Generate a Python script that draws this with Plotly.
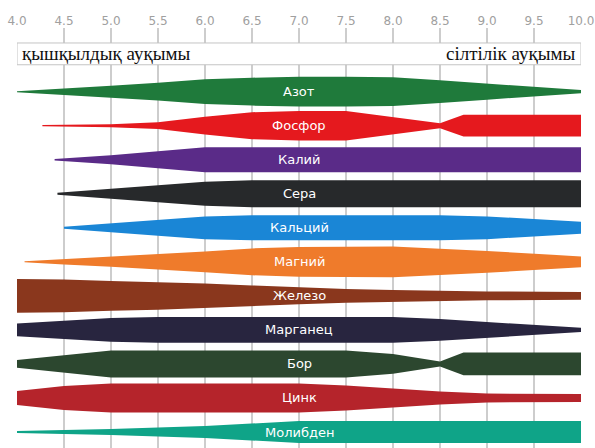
import plotly.graph_objects as go

# ---- data -------------------------------------------------------------
ph_ticks = [4.0, 4.5, 5.0, 5.5, 6.0, 6.5, 7.0, 7.5, 8.0, 8.5, 9.0, 9.5, 10.0]
tick_labels = ["4.0", "4.5", "5.0", "5.5", "6.0", "6.5", "7.0", "7.5", "8.0", "8.5", "9.0", "9.5", "10.0"]

nutrients = ["Азот", "Фосфор", "Калий", "Сера", "Кальций", "Магний",
             "Железо", "Марганец", "Бор", "Цинк", "Молибден"]
colors = ["#1f7a3b", "#e5191e", "#5a2b88", "#27292b", "#1a86d6", "#ef7b2b",
          "#8a371d", "#28253f", "#2c472f", "#b5242b", "#0fa488"]

# availability (band thickness, in row heights) along pH
ph_azot = [4.0, 4.5, 5.0, 5.5, 6.0, 6.5, 7.0, 7.5, 8.0, 8.5, 9.0, 9.5, 10.0]
av_azot = [0.03, 0.17, 0.35, 0.52, 0.73, 0.82, 0.87, 0.87, 0.85, 0.67, 0.47, 0.26, 0.09]

ph_fosfor = [4.27, 5.0, 5.5, 6.0, 6.5, 7.0, 7.5, 8.0, 8.5, 8.75, 10.0]
av_fosfor = [0.04, 0.09, 0.2, 0.52, 0.79, 0.87, 0.87, 0.52, 0.15, 0.64, 0.64]

ph_kaliy = [4.4, 5.0, 5.5, 6.0, 10.0]
av_kaliy = [0.04, 0.26, 0.5, 0.73, 0.73]

ph_sera = [4.43, 5.0, 5.5, 6.0, 6.5, 10.0]
av_sera = [0.06, 0.29, 0.5, 0.7, 0.79, 0.79]

ph_kalciy = [4.5, 5.0, 5.5, 6.0, 6.5, 8.5, 9.0, 10.0]
av_kalciy = [0.06, 0.26, 0.47, 0.67, 0.73, 0.73, 0.67, 0.35]

ph_magniy = [4.08, 4.5, 5.0, 5.5, 6.0, 6.5, 7.0, 8.0, 9.0, 10.0]
av_magniy = [0.03, 0.15, 0.29, 0.44, 0.61, 0.79, 0.87, 0.9, 0.64, 0.32]

ph_zhelezo = [4.0, 4.5, 5.0, 5.5, 6.0, 6.5, 7.0, 7.5, 8.0, 9.0, 10.0]
av_zhelezo = [0.99, 0.96, 0.87, 0.82, 0.73, 0.61, 0.5, 0.41, 0.35, 0.26, 0.23]

ph_marganec = [4.0, 4.5, 5.0, 5.5, 8.0, 8.5, 9.0, 9.5, 10.0]
av_marganec = [0.38, 0.55, 0.7, 0.76, 0.76, 0.64, 0.47, 0.29, 0.12]

ph_bor = [4.0, 4.5, 5.0, 7.5, 8.0, 8.5, 8.75, 10.0]
av_bor = [0.23, 0.5, 0.79, 0.79, 0.58, 0.15, 0.67, 0.67]

ph_cink = [4.0, 4.5, 5.0, 7.0, 7.5, 8.0, 8.5, 9.0, 10.0]
av_cink = [0.41, 0.7, 0.85, 0.85, 0.73, 0.55, 0.38, 0.26, 0.23]

ph_molibden = [4.0, 5.0, 6.0, 7.0, 10.0]
av_molibden = [0.06, 0.18, 0.35, 0.64, 0.64]

acid_label = "қышқылдық ауқымы"
alkali_label = "сілтілік ауқымы"

# ---- figure -----------------------------------------------------------
bands = [(ph_azot, av_azot), (ph_fosfor, av_fosfor), (ph_kaliy, av_kaliy),
         (ph_sera, av_sera), (ph_kalciy, av_kalciy), (ph_magniy, av_magniy),
         (ph_zhelezo, av_zhelezo), (ph_marganec, av_marganec), (ph_bor, av_bor),
         (ph_cink, av_cink), (ph_molibden, av_molibden)]

fig = go.Figure()
for i, (name, col, (ph, av)) in enumerate(zip(nutrients, colors, bands)):
    xs = list(ph) + list(ph[::-1])
    ys = [i - a / 2 for a in av] + [i + a / 2 for a in av[::-1]]
    fig.add_trace(go.Scatter(x=xs, y=ys, fill="toself", fillcolor=col,
                             mode="lines", line=dict(width=0, color=col),
                             hoverinfo="skip", showlegend=False, name=name))
    fig.add_annotation(x=7.0, y=i, text=name, showarrow=False,
                       font=dict(family="DejaVu Sans, Arial", size=13, color="white"),
                       xanchor="center", yanchor="middle")

# label strip
fig.add_shape(type="rect", xref="x", yref="y", x0=4.0, x1=10.0, y0=-1.43, y1=-0.79,
              fillcolor="white", line=dict(color="#c4c4c4", width=1), layer="above")
fig.add_annotation(x=4.0, y=-1.11, text=acid_label, showarrow=False, xanchor="left",
                   xshift=3, yanchor="middle",
                   font=dict(family="Liberation Serif, Times New Roman", size=19, color="#111"))
fig.add_annotation(x=10.0, y=-1.11, text=alkali_label, showarrow=False, xanchor="right",
                   xshift=-3, yanchor="middle",
                   font=dict(family="Liberation Serif, Times New Roman", size=19, color="#111"))

fig.update_layout(
    width=595, height=448,
    margin=dict(l=17, r=14, t=28, b=0),
    paper_bgcolor="white", plot_bgcolor="white",
    hovermode=False,
    xaxis=dict(range=[4.0, 10.0], side="top", tickmode="array",
               tickvals=ph_ticks, ticktext=tick_labels,
               showgrid=True, gridcolor="#cdcdcd", gridwidth=1.5,
               zeroline=False, showline=False, ticks="",
               tickfont=dict(family="DejaVu Sans", size=12, color="#a0a0a0")),
    yaxis=dict(range=[10.47, -1.87], visible=False, showgrid=False, zeroline=False),
)

fig.write_html("out.html", config={"displayModeBar": False},
               post_script="document.body.style.margin='0px';document.body.style.overflow='hidden';")
